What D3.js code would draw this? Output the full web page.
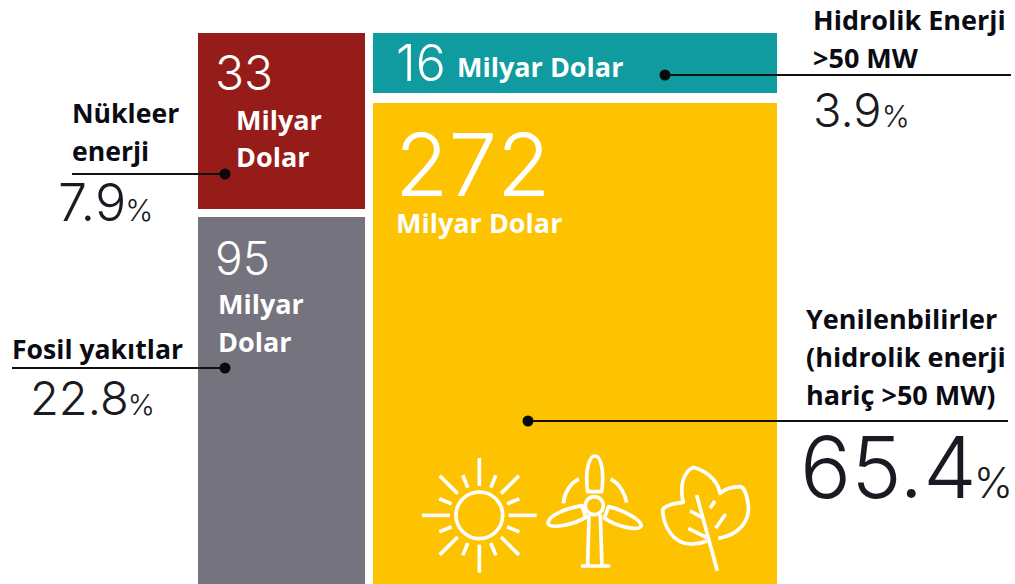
<!DOCTYPE html>
<html><head><meta charset="utf-8">
<script src="https://cdn.jsdelivr.net/npm/d3@7/dist/d3.min.js"></script>
<style>html,body{margin:0;padding:0;background:#fff;overflow:hidden}svg{display:block}</style>
</head><body><div id="c"></div>
<script>
const categories = ["Nükleer enerji","Fosil yakıtlar","Hidrolik Enerji >50 MW","Yenilenbilirler (hidrolik enerji hariç >50 MW)"];
const amounts = [33,95,16,272];
const shares = ["7.9","22.8","3.9","65.4"];
const columns = [0,0,1,1];
const colors = ["#951c19","#75737e","#0f9ba0","#fdc300"];
const unit = "Milyar Dolar";

const W=1015,H=584;
const svg=d3.select("#c").append("svg").attr("width",W).attr("height",H);
const NUM="Inter, sans-serif", LBL="'Open Sans', sans-serif";
const LS=27, LSO=26.6;

// Schematic layout: piecewise scales, as the graphic isn't strictly proportional
const x=d3.scaleLinear().domain([0,128,416]).range([194,369,781]);
const yL=d3.scaleLinear().domain([0,33,128]).range([29,213,596]);
const yR=d3.scaleLinear().domain([0,16,288]).range([28,98,596]);
const cols=[{y:yL,x0:x(0),x1:x(128),start:[0,33]},{y:yR,x0:x(128),x1:x(416),start:[0,16]}];

const cells=categories.map((c,i)=>{
  const col=cols[columns[i]];
  const start=col.start[i%2];
  const end=start+amounts[i];
  return {c,i,a:amounts[i],s:shares[i],color:colors[i],
    x0:col.x0+4,x1:col.x1-4,y0:col.y(start)+(i>=2?5:4),y1:col.y(end)-(i===2?5:4)};
});
svg.selectAll("rect.cell").data(cells).join("rect").attr("class","cell")
  .attr("x",d=>d.x0).attr("y",d=>d.y0).attr("width",d=>d.x1-d.x0).attr("height",d=>d.y1-d.y0)
  .attr("fill",d=>d.color);

function txt(s,px,py,size,font,weight,fill){
  return svg.append("text").attr("x",px).attr("y",py).attr("font-size",size)
    .attr("font-family",font).attr("font-weight",weight).attr("fill",fill).text(s);
}
const [uA,uB]=unit.split(" ");
// Amounts inside cells
txt(amounts[0],215,90,48,NUM,300,"#fff");
txt(uA,236,130,LS,LBL,700,"#fff"); txt(uB,236,167,LS,LBL,700,"#fff");
txt(amounts[1],215,275,46,NUM,300,"#fff");
txt(uA,218,314,LS,LBL,700,"#fff"); txt(uB,218,352,LS,LBL,700,"#fff");
txt(amounts[2],396,81,50,NUM,300,"#fff");
txt(unit,457,77,LS,LBL,700,"#fff");
txt(amounts[3],395,196,87,NUM,300,"#fff");
txt(unit,396,233,LS,LBL,700,"#fff");

// Outside labels
const DARK="#0b0b14";
txt("Nükleer",72,123,LSO,LBL,700,DARK); txt("enerji",72,161,LSO,LBL,700,DARK);
txt("Fosil yakıtlar",12,359,LSO,LBL,700,DARK);
txt("Hidrolik Enerji",813,30,LS,LBL,700,DARK); txt(">50 MW",813,68,LS,LBL,700,DARK);
txt("Yenilenbilirler",806,329,LS,LBL,700,DARK); txt("(hidrolik enerji",806,367,LS,LBL,700,DARK); txt("hariç >50 MW)",806,405,LS,LBL,700,DARK);

function pct(v,px,py,size,psize,dx){
  const t=txt(v,px,py,size,NUM,300,"#1a1a22");
  t.append("tspan").attr("font-size",psize).attr("dx",dx).text("%");
}
pct(shares[0],58,221,52,30,-1);
pct(shares[1],30,415,47,29,-1);
pct(shares[2],813,127,47,30,0);
pct(shares[3],800,498,85,42,-3);

// Leaders
const leaders=[[72,225,174],[12,225,368],[665,1011,75],[528,1008,421]];
svg.selectAll("line.lead").data(leaders).join("line").attr("class","lead")
  .attr("x1",d=>d[0]).attr("x2",d=>d[1]).attr("y1",d=>d[2]).attr("y2",d=>d[2])
  .attr("stroke","#111").attr("stroke-width",2);
const dots=[[225,174],[225,368],[665,75],[528,421]];
svg.selectAll("circle.dot").data(dots).join("circle").attr("class","dot")
  .attr("cx",d=>d[0]).attr("cy",d=>d[1]).attr("r",5.5).attr("fill","#0a0a0a");

// Icons (drawn in 3x coordinates)
const ic=svg.append("g").attr("transform","translate(400,440) scale(0.3333)")
  .attr("fill","none").attr("stroke","#fff").attr("stroke-width",11).attr("stroke-linecap","butt").attr("stroke-linejoin","round");
// sun
const sun=ic.append("g").attr("transform","translate(238,226)");
sun.append("circle").attr("r",70);
d3.range(16).forEach(k=>{
  const a=k*Math.PI/8, long=k%2===0;
  const r0=long?(k%4===0?88:92):90, r1=long?(k%4===0?172:168):130;
  sun.append("line").attr("x1",r0*Math.cos(a)).attr("y1",r0*Math.sin(a)).attr("x2",r1*Math.cos(a)).attr("y2",r1*Math.sin(a));
});
// turbine
ic.append("circle").attr("cx",583).attr("cy",197).attr("r",27);
ic.append("path").attr("d","M567,224 L563,378 M601,224 L606,378 M543,378 H631");
ic.append("path").attr("d","M563,155 C555,100 565,48 585,48 C605,48 613,100 605,155 Z");
ic.append("path").attr("d","M546,197 C500,205 445,225 444,250 C450,268 520,255 557,232 Z");
ic.append("path").attr("d","M626,200 C670,210 725,240 724,258 C715,275 650,260 613,234 Z");
ic.append("path").attr("d","M490,190 C493,160 510,130 537,117 M632,117 C658,130 675,160 680,188");
// leaf
ic.append("path").attr("d","M955,295 C1020,285 1050,240 1045,195 C1040,160 1030,140 1020,140 C995,140 975,148 960,160 C955,125 925,95 880,82 C850,95 838,140 850,187 C820,190 795,195 788,210 C790,260 820,310 870,312 C890,313 905,310 922,303");
ic.append("path").attr("d","M890,165 L952,392 M870,213 L912,235 M945,183 L930,205 M977,222 L947,265 M865,265 L920,293");
</script></body></html>
